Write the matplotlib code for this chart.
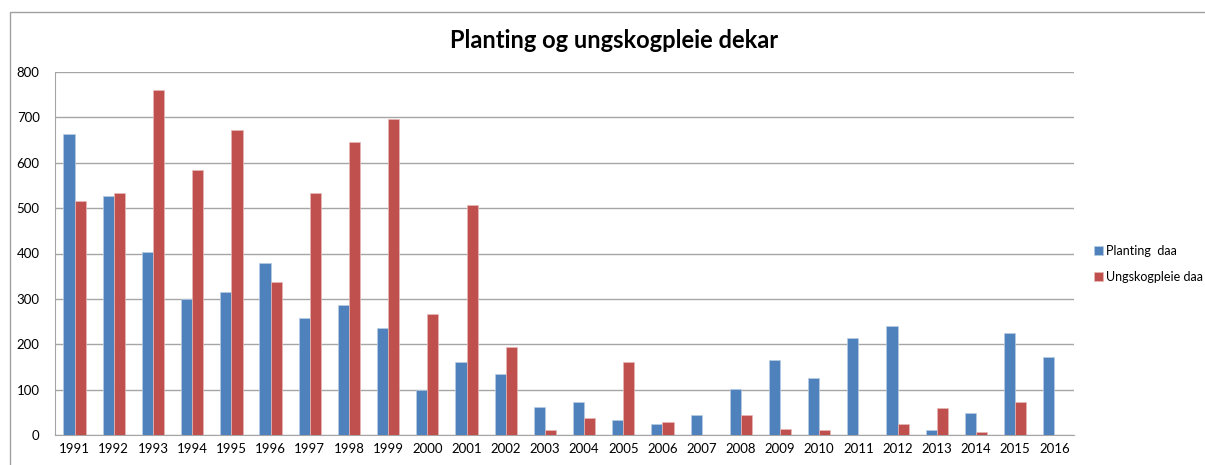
import matplotlib.pyplot as plt
import numpy as np
from matplotlib.patches import Rectangle

years = [str(y) for y in range(1991, 2017)]
planting = [663, 527, 404, 300, 315, 378, 257, 287, 235, 100, 161, 135, 62, 73, 34,
            24, 45, 101, 166, 126, 214, 240, 11, 49, 224, 173]
ungskog = [516, 534, 760, 583, 672, 338, 534, 645, 697, 267, 507, 195, 10, 37, 161,
           29, 0, 44, 14, 10, 0, 25, 60, 7, 73, 0]

BLUE = "#4f81bd"
RED = "#c0504d"
GRID = "#a6a6a6"

plt.rcParams["font.family"] = ["Lato", "DejaVu Sans"]

fig = plt.figure(figsize=(12.05, 4.65), dpi=100)
# outer chart border
fig.patches.append(Rectangle((10 / 1205, -0.1), 1.1, 1 - 12 / 465 + 0.1,
                             transform=fig.transFigure, fill=False,
                             edgecolor="#a0a0a0", linewidth=1.0))

ax = fig.add_axes([55 / 1205, 1 - 435 / 465, (1074 - 55) / 1205, (435 - 72) / 465])

x = np.arange(len(years))
w = 0.285
ax.bar(x - w / 2, planting, w, color=BLUE, edgecolor="#b8cce4", linewidth=0.5, label="Planting  daa", zorder=3)
ax.bar(x + w / 2, ungskog, w, color=RED, edgecolor="#e6b9b8", linewidth=0.5, label="Ungskogpleie daa", zorder=3)

ax.set_xlim(-0.5, len(years) - 0.5)
ax.set_ylim(0, 800)
ax.set_yticks(range(0, 801, 100))
ax.set_xticks(x)
ax.set_xticklabels(years)
ax.tick_params(axis="both", length=0, labelsize=9.5, colors="black")
ax.tick_params(axis="y", pad=11)
ax.tick_params(axis="x", pad=6)
ax.yaxis.grid(True, color=GRID, linewidth=1.0, zorder=0)

for s in ["top", "right"]:
    ax.spines[s].set_visible(False)
ax.spines["left"].set_color(GRID)
ax.spines["bottom"].set_color(GRID)

fig.text(614 / 1205, 1 - 40 / 465, "Planting og ungskogpleie dekar",
         ha="center", va="center", fontsize=17, fontweight="bold")

ax.legend(loc="center left", bbox_to_anchor=(1094 / 1205, 1 - 264 / 465),
          bbox_transform=fig.transFigure, frameon=False, fontsize=9,
          handlelength=0.7, handleheight=0.7, handletextpad=0.3, labelspacing=1.15,
          borderaxespad=0, borderpad=0)

fig.savefig("out.png", dpi=100)
